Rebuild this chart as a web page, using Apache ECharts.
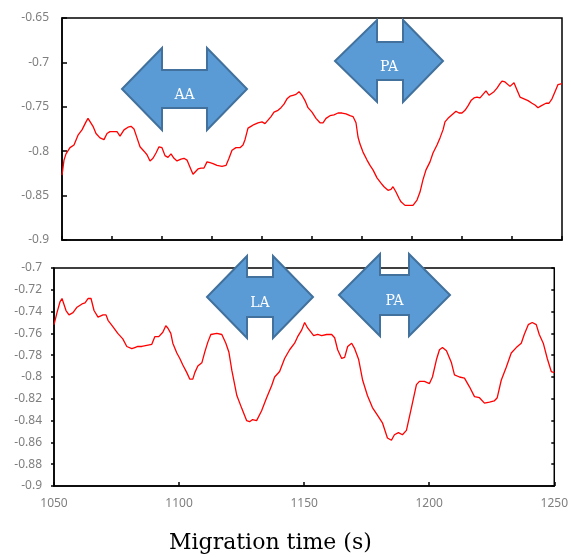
<!DOCTYPE html>
<html lang="en">
<head>
<meta charset="UTF-8">
<title>Migration time</title>
<style>
    html, body { margin: 0; padding: 0; background: #fff; }
</style>
</head>
<body>
<div id="main" style="width:571px;height:557px;"></div>
<script src="https://cdn.jsdelivr.net/npm/echarts@6/dist/echarts.min.js"></script>
<script>
// upper trace: [time (s), signal]
var upperTrace = [
    [1050.0,-0.827],[1050.8,-0.810],[1051.6,-0.803],[1053.2,-0.796],[1054.8,-0.793],[1056.4,-0.782],[1058.0,-0.776],[1059.6,-0.767],[1060.4,-0.763],[1061.2,-0.764],
    [1062.4,-0.772],[1063.6,-0.780],[1065.2,-0.785],[1066.8,-0.787],[1068.0,-0.780],[1069.2,-0.778],[1070.8,-0.778],[1072.0,-0.778],[1073.2,-0.783],[1074.8,-0.776],
    [1076.4,-0.773],[1077.6,-0.772],[1078.8,-0.775],[1080.0,-0.785],[1081.2,-0.795],[1082.8,-0.800],[1084.0,-0.804],[1085.2,-0.811],[1086.4,-0.808],[1087.6,-0.802],
    [1088.8,-0.795],[1090.0,-0.796],[1091.2,-0.805],[1092.4,-0.807],[1093.6,-0.803],[1094.8,-0.808],[1096.0,-0.811],[1097.6,-0.809],[1098.8,-0.808],[1100.0,-0.810],
    [1101.2,-0.818],[1102.4,-0.826],[1103.2,-0.827],[1104.4,-0.820],[1105.6,-0.819],[1106.8,-0.819],[1108.0,-0.812],[1109.2,-0.813],[1110.4,-0.814],[1112.0,-0.816],
    [1114.0,-0.817],[1115.6,-0.816],[1116.8,-0.808],[1118.0,-0.799],[1119.6,-0.796],[1121.2,-0.796],[1122.4,-0.793],[1123.2,-0.787],[1124.4,-0.774],[1125.6,-0.772],
    [1126.8,-0.770],[1128.4,-0.768],[1130.0,-0.767],[1131.2,-0.769],[1132.4,-0.765],[1133.6,-0.761],[1134.8,-0.756],[1136.4,-0.754],[1137.6,-0.751],[1138.8,-0.747],
    [1140.0,-0.741],[1141.2,-0.738],[1142.4,-0.737],[1143.6,-0.736],[1144.8,-0.733],[1146.0,-0.737],[1147.2,-0.743],[1148.4,-0.751],[1150.0,-0.756],[1151.6,-0.763],
    [1153.2,-0.768],[1154.4,-0.768],[1155.6,-0.763],[1157.2,-0.760],[1158.8,-0.759],[1160.4,-0.757],[1162.0,-0.757],[1163.6,-0.758],[1165.2,-0.760],[1166.4,-0.761],
    [1167.6,-0.768],[1168.4,-0.784],[1169.2,-0.792],[1170.4,-0.801],[1172.0,-0.810],[1173.2,-0.816],[1174.4,-0.821],[1176.0,-0.830],[1177.6,-0.836],[1178.8,-0.840],
    [1180.4,-0.844],[1181.6,-0.843],[1182.4,-0.840],[1183.6,-0.846],[1184.8,-0.853],[1185.6,-0.857],[1187.2,-0.861],[1188.8,-0.861],[1190.4,-0.861],[1192.0,-0.855],
    [1193.2,-0.846],[1194.4,-0.832],[1195.6,-0.821],[1197.2,-0.812],[1198.4,-0.802],[1200.0,-0.793],[1201.2,-0.785],[1202.4,-0.776],[1203.2,-0.767],[1204.4,-0.763],
    [1206.0,-0.759],[1207.6,-0.755],[1208.8,-0.757],[1210.0,-0.757],[1211.2,-0.754],[1212.4,-0.749],[1213.6,-0.743],[1214.8,-0.740],[1216.0,-0.739],[1217.2,-0.740],
    [1218.4,-0.736],[1219.6,-0.732],[1220.8,-0.737],[1221.6,-0.739],[1222.8,-0.733],[1224.0,-0.729],[1225.2,-0.724],[1226.0,-0.721],[1227.2,-0.722],[1228.0,-0.723],
    [1229.2,-0.727],[1230.8,-0.723],[1232.0,-0.731],[1233.2,-0.739],[1234.8,-0.741],[1236.4,-0.743],[1238.0,-0.746],[1239.2,-0.748],[1240.4,-0.751],[1241.6,-0.749],
    [1242.4,-0.747],[1243.6,-0.746],[1244.8,-0.746],[1246.0,-0.741],[1247.2,-0.733],[1248.4,-0.725],[1250.0,-0.724]
];

// lower trace: [time (s), signal]
var lowerTrace = [
    [1050.0,-0.752],[1051.2,-0.741],[1052.4,-0.731],[1053.2,-0.728],[1053.6,-0.728],[1054.8,-0.739],[1056.0,-0.743],[1057.6,-0.741],[1059.2,-0.736],[1061.2,-0.733],
    [1062.4,-0.732],[1063.6,-0.728],[1064.8,-0.728],[1066.0,-0.739],[1067.6,-0.745],[1069.6,-0.743],[1070.8,-0.743],[1071.6,-0.748],[1073.6,-0.754],[1075.5,-0.760],
    [1077.5,-0.765],[1079.1,-0.772],[1081.1,-0.774],[1082.3,-0.773],[1083.5,-0.772],[1085.1,-0.772],[1087.1,-0.771],[1089.1,-0.770],[1090.3,-0.763],[1091.9,-0.763],
    [1093.5,-0.759],[1094.7,-0.753],[1095.5,-0.755],[1096.7,-0.760],[1097.5,-0.769],[1099.1,-0.778],[1100.3,-0.783],[1101.5,-0.789],[1103.1,-0.796],[1104.3,-0.802],
    [1105.5,-0.802],[1106.3,-0.796],[1107.5,-0.790],[1109.1,-0.787],[1110.3,-0.777],[1111.5,-0.768],[1112.7,-0.761],[1115.1,-0.760],[1117.1,-0.761],[1118.7,-0.769],
    [1119.9,-0.777],[1121.1,-0.794],[1123.1,-0.817],[1125.1,-0.829],[1127.0,-0.840],[1128.2,-0.841],[1129.4,-0.839],[1131.0,-0.840],[1133.0,-0.831],[1135.0,-0.819],
    [1137.0,-0.808],[1138.2,-0.800],[1140.2,-0.795],[1142.2,-0.783],[1144.2,-0.775],[1146.2,-0.769],[1147.4,-0.763],[1149.0,-0.757],[1150.2,-0.750],[1151.4,-0.755],
    [1153.8,-0.762],[1155.4,-0.761],[1157.0,-0.762],[1159.0,-0.761],[1161.0,-0.761],[1162.2,-0.764],[1163.4,-0.775],[1165.0,-0.783],[1166.2,-0.782],[1167.4,-0.772],
    [1169.0,-0.769],[1170.2,-0.774],[1171.8,-0.784],[1173.4,-0.803],[1175.3,-0.817],[1177.3,-0.828],[1179.3,-0.835],[1181.3,-0.842],[1183.3,-0.856],[1184.9,-0.858],
    [1186.1,-0.853],[1187.7,-0.851],[1189.3,-0.853],[1190.9,-0.849],[1192.9,-0.828],[1194.9,-0.807],[1196.1,-0.804],[1198.1,-0.804],[1200.1,-0.806],[1201.3,-0.800],
    [1202.9,-0.784],[1204.1,-0.775],[1205.3,-0.773],[1206.9,-0.776],[1208.9,-0.787],[1210.1,-0.798],[1212.1,-0.800],[1214.1,-0.801],[1216.1,-0.809],[1218.1,-0.818],
    [1220.1,-0.819],[1222.1,-0.824],[1224.1,-0.823],[1226.0,-0.822],[1227.2,-0.819],[1228.8,-0.803],[1230.8,-0.791],[1232.8,-0.778],[1234.8,-0.773],[1236.8,-0.769],
    [1238.0,-0.761],[1239.6,-0.752],[1241.2,-0.750],[1242.8,-0.752],[1244.0,-0.761],[1245.6,-0.769],[1247.2,-0.783],[1248.8,-0.795],[1250.0,-0.796]
];

var upperTicks = [1050, 1070, 1090, 1110, 1130, 1150, 1170, 1190, 1210, 1230, 1250];
var arrowLabels = ['AA', 'PA', 'LA', 'PA'];
var xTitle = 'Migration time (s)';

// arrow shapes (pixel layout, like the callouts drawn over the plots)
var arrowBoxes = [
    {x0: 122, x1: 162, x2: 207, x3: 247, cy: 89, head: 41, shaft: 19},
    {x0: 335, x1: 377, x2: 403, x3: 443, cy: 61, head: 41, shaft: 19},
    {x0: 207, x1: 247, x2: 273, x3: 313, cy: 297, head: 41, shaft: 20},
    {x0: 339, x1: 380, x2: 409, x3: 450, cy: 295, head: 41, shaft: 20}
];

function arrowPoints(a) {
    var cy = a.cy, h = a.head, s = a.shaft;
    return [[a.x0, cy], [a.x1, cy - h], [a.x1, cy - s], [a.x2, cy - s], [a.x2, cy - h],
            [a.x3, cy], [a.x2, cy + h], [a.x2, cy + s], [a.x1, cy + s], [a.x1, cy + h]];
}

var graphics = [];
arrowBoxes.forEach(function (a, i) {
    graphics.push({
        type: 'polygon',
        z: 100,
        shape: {points: arrowPoints(a)},
        style: {fill: '#5B9BD5', stroke: '#41719C', lineWidth: 2}
    });
    graphics.push({
        type: 'text',
        z: 101,
        x: (a.x0 + a.x3) / 2,
        y: a.cy + 6,
        style: {
            text: arrowLabels[i],
            fill: '#fff',
            font: '14px "DejaVu Serif"',
            align: 'center',
            verticalAlign: 'middle'
        }
    });
});

var labelStyle = {color: '#7f7f7f', fontSize: 12, fontFamily: 'Noto Sans'};
var black = {color: '#000', width: 1.5};

var myChart = echarts.init(document.getElementById('main'));
var option = {
    backgroundColor: '#fff',
    animation: false,
    title: {
        text: xTitle,
        left: 169,
        top: 532,
        padding: 0,
        textStyle: {fontFamily: 'DejaVu Serif', fontSize: 22, fontWeight: 'normal', color: '#000'}
    },
    grid: [
        {left: 62, right: 9, top: 18, height: 222, show: true, borderColor: '#000', borderWidth: 1.5},
        {left: 54, right: 16, top: 268, height: 218, show: true, borderColor: '#000', borderWidth: 1.5}
    ],
    xAxis: [
        {
            type: 'value', gridIndex: 0, min: 1050, max: 1250,
            axisLine: {show: true, lineStyle: black},
            axisTick: {inside: true, length: 4, lineStyle: black, customValues: upperTicks},
            axisLabel: {show: false},
            splitLine: {show: false}
        },
        {
            type: 'value', gridIndex: 1, min: 1050, max: 1250, interval: 50,
            axisLine: {show: true, lineStyle: black},
            axisTick: {inside: true, length: 4, lineStyle: black},
            axisLabel: Object.assign({margin: 12, formatter: function (v) { return String(v); }}, labelStyle),
            splitLine: {show: false}
        }
    ],
    yAxis: [
        {
            type: 'value', gridIndex: 0, min: -0.9, max: -0.65, interval: 0.05,
            axisLine: {show: true, lineStyle: black},
            axisTick: {show: true, inside: true, length: 5, lineStyle: black},
            axisLabel: Object.assign({margin: 13}, labelStyle),
            splitLine: {show: false}
        },
        {
            type: 'value', gridIndex: 1, min: -0.9, max: -0.7, interval: 0.02,
            axisLine: {show: true, lineStyle: black},
            axisTick: {show: true, inside: false, length: 3, lineStyle: black},
            axisLabel: Object.assign({margin: 12}, labelStyle),
            splitLine: {show: false}
        },
        {
            // inner half of the crossing ticks on the lower panel
            type: 'value', gridIndex: 1, min: -0.9, max: -0.7, interval: 0.02,
            axisLine: {show: false},
            axisTick: {show: true, inside: true, length: 3, lineStyle: black},
            axisLabel: {show: false},
            splitLine: {show: false}
        }
    ],
    series: [
        {
            type: 'line', xAxisIndex: 0, yAxisIndex: 0,
            data: upperTrace, showSymbol: false, symbol: 'none',
            lineStyle: {color: '#ff0000', width: 1.3}
        },
        {
            type: 'line', xAxisIndex: 1, yAxisIndex: 1,
            data: lowerTrace, showSymbol: false, symbol: 'none',
            lineStyle: {color: '#ff0000', width: 1.3}
        }
    ],
    graphic: graphics
};
myChart.setOption(option);
</script>
</body>
</html>
